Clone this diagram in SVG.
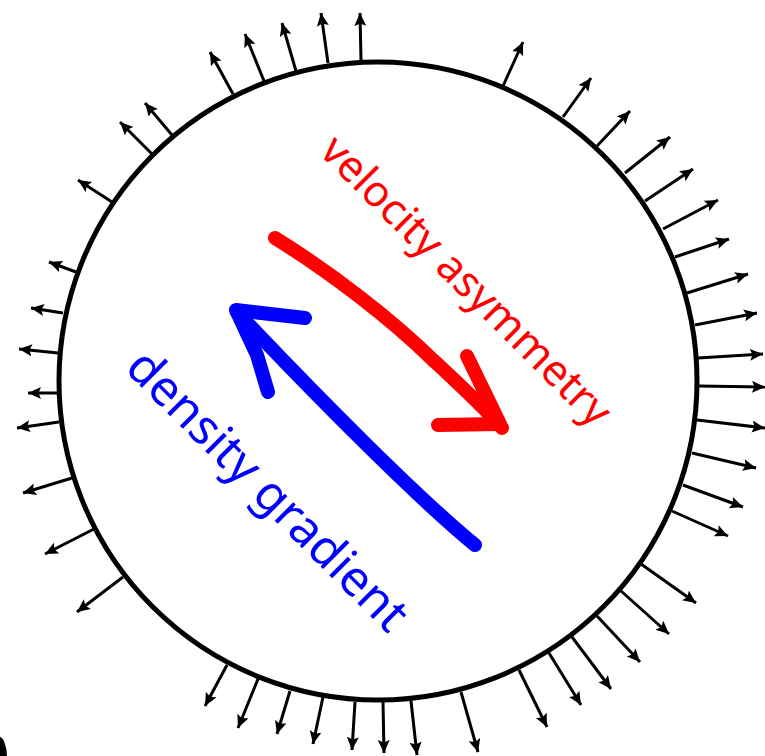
<svg xmlns="http://www.w3.org/2000/svg" width="765" height="756" viewBox="0 0 765 756">
<defs>
<marker id="ah" markerUnits="userSpaceOnUse" markerWidth="16" markerHeight="14" refX="13" refY="6" orient="auto">
<path d="M0,0 L13,6 L0,12 L2.5,6 z" fill="#000"/>
</marker>
<style>
.rad line{stroke:#000;stroke-width:3;marker-end:url(#ah)}
.hand{fill:none;stroke-linecap:round;stroke-linejoin:round;stroke-width:14}
.lbl{font-family:"Noto Sans","Open Sans","DejaVu Sans",sans-serif;text-anchor:middle}
</style>
</defs>
<rect width="765" height="756" fill="#fff"/>
<g id="boundary">
<circle cx="378" cy="381" r="319" fill="none" stroke="#000" stroke-width="5"/>
</g>
<g id="connectors" class="rad">
<line x1="112" y1="202" x2="78" y2="180"/>
<line x1="152" y1="154" x2="120" y2="122"/>
<line x1="172" y1="135" x2="145" y2="103"/>
<line x1="233" y1="94" x2="210" y2="52"/>
<line x1="264" y1="81" x2="245" y2="34"/>
<line x1="296" y1="71" x2="282" y2="23"/>
<line x1="328" y1="63" x2="321" y2="13"/>
<line x1="361" y1="61" x2="360" y2="13"/>
<line x1="503" y1="86" x2="523" y2="42"/>
<line x1="563" y1="117" x2="591" y2="78"/>
<line x1="597" y1="146" x2="630" y2="111"/>
<line x1="625" y1="173" x2="670" y2="137"/>
<line x1="645" y1="201" x2="693" y2="169"/>
<line x1="663" y1="229" x2="718" y2="200"/>
<line x1="675" y1="257" x2="729" y2="239"/>
<line x1="687" y1="293" x2="748" y2="274"/>
<line x1="695" y1="325" x2="757" y2="313"/>
<line x1="698" y1="358" x2="763" y2="354"/>
<line x1="698" y1="386" x2="765" y2="387"/>
<line x1="697" y1="420" x2="765" y2="428"/>
<line x1="692" y1="453" x2="756" y2="468"/>
<line x1="683" y1="485" x2="743" y2="507"/>
<line x1="672" y1="511" x2="728" y2="536"/>
<line x1="641" y1="564" x2="696" y2="603"/>
<line x1="621" y1="591" x2="669" y2="634"/>
<line x1="597" y1="616" x2="640" y2="662"/>
<line x1="572" y1="637" x2="611" y2="689"/>
<line x1="549" y1="653" x2="581" y2="705"/>
<line x1="519" y1="670" x2="547" y2="727"/>
<line x1="461" y1="692" x2="478" y2="752"/>
<line x1="411" y1="701" x2="417" y2="755"/>
<line x1="383" y1="702" x2="384" y2="753"/>
<line x1="355" y1="702" x2="352" y2="750"/>
<line x1="323" y1="697" x2="313" y2="744"/>
<line x1="290" y1="691" x2="277" y2="734"/>
<line x1="258" y1="679" x2="238" y2="728"/>
<line x1="227" y1="665" x2="205" y2="706"/>
<line x1="123" y1="577" x2="77" y2="612"/>
<line x1="94" y1="529" x2="45" y2="554"/>
<line x1="72" y1="478" x2="23" y2="493"/>
<line x1="59" y1="422" x2="17" y2="428"/>
<line x1="57" y1="393" x2="28" y2="393"/>
<line x1="58" y1="353" x2="19" y2="349"/>
<line x1="63" y1="313" x2="31" y2="308"/>
<line x1="76" y1="272" x2="49" y2="262"/>
</g>
<g id="velocity-arrow">
<path class="hand" stroke="#ff0000" d="M275,238 C330,272 390,318 433,360 C460,385 485,408 502,428"/>
<path class="hand" stroke="#ff0000" d="M467,356 L500,424 L438,425"/>
</g>
<g id="density-arrow">
<path class="hand" stroke="#0000ff" d="M475,545 C420,500 320,400 237,312"/>
<path class="hand" stroke="#0000ff" d="M305,318 L236,310 L257,355 L268,392"/>
</g>
<g id="velocity-label">
<text class="lbl" fill="#ff0000" font-size="43" transform="translate(456,291) rotate(45)">velocity asymmetry</text>
</g>
<g id="density-label">
<text class="lbl" fill="#0000ff" font-size="49" transform="translate(256,502) rotate(45)">density gradient</text>
</g>
<g id="corner-mark">
<ellipse cx="-2" cy="757" rx="9" ry="21" fill="#000"/>
</g>
</svg>
